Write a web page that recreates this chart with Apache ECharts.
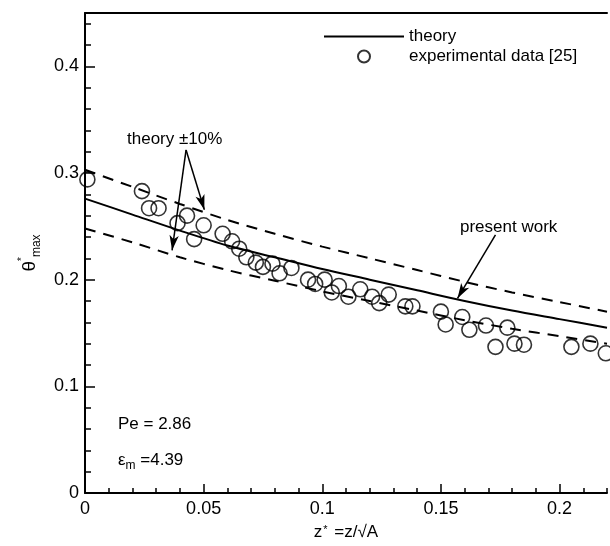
<!DOCTYPE html>
<html>
<head>
<meta charset="utf-8">
<script src="https://cdn.jsdelivr.net/npm/echarts@6/dist/echarts.min.js"></script>
<style>
  html, body { margin: 0; padding: 0; background: #fff; }
  #chart { width: 610px; height: 546px; }
</style>
</head>
<body>
<div id="chart"></div>
<script>
// Theory curve and its ±10% band, sampled along z*
const zTheory = [0, 0.02, 0.04, 0.06, 0.08, 0.10, 0.12, 0.14, 0.16, 0.18, 0.20, 0.22];
const theory = [0.276, 0.261, 0.246, 0.232, 0.221, 0.210, 0.200, 0.190, 0.180, 0.171, 0.163, 0.155];
const theoryUpper = [0.303, 0.287, 0.271, 0.256, 0.243, 0.231, 0.220, 0.209, 0.198, 0.188, 0.179, 0.170];
const theoryLower = [0.248, 0.235, 0.221, 0.209, 0.199, 0.189, 0.180, 0.171, 0.162, 0.154, 0.147, 0.140];

// Experimental data [25]
const expZ = [0.001, 0.024, 0.027, 0.031, 0.039, 0.043, 0.046, 0.050, 0.058, 0.062,
              0.065, 0.068, 0.072, 0.075, 0.079, 0.082, 0.087, 0.094, 0.097, 0.101,
              0.104, 0.107, 0.111, 0.116, 0.121, 0.124, 0.128, 0.135, 0.138, 0.150,
              0.152, 0.159, 0.162, 0.169, 0.173, 0.178, 0.181, 0.185, 0.205, 0.213, 0.2195];
const expTheta = [0.294, 0.283, 0.267, 0.267, 0.253, 0.260, 0.238, 0.251, 0.243, 0.236,
                  0.229, 0.221, 0.216, 0.212, 0.215, 0.206, 0.211, 0.200, 0.196, 0.200,
                  0.188, 0.194, 0.184, 0.191, 0.184, 0.178, 0.186, 0.175, 0.175, 0.170,
                  0.158, 0.165, 0.153, 0.157, 0.137, 0.155, 0.140, 0.139, 0.137, 0.140, 0.131];

// Axis ranges and tick steps
const xRange = [0, 0.22];
const yRange = [0, 0.45];
const xMajor = 0.05, xMinor = 0.01;
const yMajor = 0.1, yMinor = 0.02;

// Annotation arrows: [from, to] in data coordinates
const bandArrows = [
  [[0.0426, 0.3216], [0.0367, 0.2275]],
  [[0.0426, 0.3216], [0.0503, 0.2655]]
];
const workArrow = [[0.173, 0.2421], [0.157, 0.1825]];

const FONT = '"Liberation Sans", Arial, sans-serif';
const pairs = (xs, ys) => xs.map((x, i) => [x, ys[i]]);

const chart = echarts.init(document.getElementById('chart'), null, { renderer: 'canvas' });

const axisText = { color: '#000', fontSize: 18, fontFamily: FONT };

const arrowLines = bandArrows.concat([workArrow]).map(a => [
  { coord: a[0], symbol: 'none' },
  { coord: a[1], symbol: 'arrow', symbolSize: [7, 15] }
]);

chart.setOption({
  animation: false,
  backgroundColor: '#fff',
  grid: { left: 85, right: 3, top: 13, bottom: 46, containLabel: false },
  legend: {
    data: [
      { name: 'theory', itemStyle: { opacity: 0 } },
      { name: 'experimental data [25]' }
    ],
    orient: 'vertical',
    left: 318,
    top: 23,
    itemWidth: 80,
    itemHeight: 12,
    itemGap: 3,
    selectedMode: false,
    textStyle: { color: '#000', fontSize: 17, fontFamily: FONT, padding: [0, 0, 0, 0] }
  },
  xAxis: [
    {
      type: 'value', min: xRange[0], max: xRange[1], interval: xMajor, position: 'bottom',
      name: 'z{s|*} =z/√A', nameLocation: 'middle', nameGap: 31,
      nameTextStyle: { color: '#000', fontSize: 17, fontFamily: FONT,
        rich: { s: { fontSize: 11, fontFamily: FONT, color: '#000', verticalAlign: 'top', padding: [0, 2, 6, 1] } } },
      axisLine: { show: true, onZero: false, lineStyle: { color: '#000', width: 2 } },
      axisTick: { show: true, inside: true, length: 9, lineStyle: { color: '#000', width: 1.5 } },
      axisLabel: Object.assign({ margin: 7, showMaxLabel: false }, axisText),
      splitLine: { show: false }
    },
    {
      type: 'value', min: xRange[0], max: xRange[1], interval: xMinor, position: 'bottom',
      axisLine: { show: false, onZero: false },
      axisTick: { show: true, inside: true, length: 5, lineStyle: { color: '#000', width: 1.5 } },
      axisLabel: { show: false },
      splitLine: { show: false }
    },
    {
      type: 'value', min: xRange[0], max: xRange[1], position: 'top',
      axisLine: { show: true, onZero: false, lineStyle: { color: '#000', width: 2 } },
      axisTick: { show: false },
      axisLabel: { show: false },
      splitLine: { show: false }
    }
  ],
  yAxis: [
    {
      type: 'value', min: yRange[0], max: yRange[1], interval: yMajor, position: 'left',
      name: '{t|θ}{s|*}{m|max}', nameLocation: 'middle', nameGap: 40,
      nameTextStyle: {
        color: '#000', fontSize: 18, fontFamily: FONT,
        rich: {
          t: { fontSize: 19, fontFamily: FONT, color: '#000', lineHeight: 26 },
          s: { fontSize: 10, fontFamily: FONT, color: '#000', verticalAlign: 'top', lineHeight: 26 },
          m: { fontSize: 12, fontFamily: FONT, color: '#000', verticalAlign: 'bottom', lineHeight: 26 }
        }
      },
      axisLine: { show: true, onZero: false, lineStyle: { color: '#000', width: 2 } },
      axisTick: { show: true, inside: true, length: 10, lineStyle: { color: '#000', width: 1.5 } },
      axisLabel: Object.assign({ margin: 6, showMaxLabel: false }, axisText),
      splitLine: { show: false }
    },
    {
      type: 'value', min: yRange[0], max: yRange[1], interval: yMinor, position: 'left',
      axisLine: { show: false, onZero: false },
      axisTick: { show: true, inside: true, length: 6, lineStyle: { color: '#000', width: 1.5 } },
      axisLabel: { show: false },
      splitLine: { show: false }
    }
  ],
  series: [
    {
      name: 'theory +10%', type: 'line', smooth: 0.3, symbol: 'none',
      data: pairs(zTheory, theoryUpper),
      lineStyle: { color: '#000', width: 2, type: [11, 8] }
    },
    {
      name: 'theory -10%', type: 'line', smooth: 0.3, symbol: 'none',
      data: pairs(zTheory, theoryLower),
      lineStyle: { color: '#000', width: 2, type: [11, 8] }
    },
    {
      name: 'theory', type: 'line', smooth: 0.3, symbol: 'none',
      data: pairs(zTheory, theory),
      itemStyle: { color: '#000' },
      lineStyle: { color: '#000', width: 2 },
      markLine: {
        silent: true, animation: false,
        label: { show: false },
        lineStyle: { color: '#000', width: 1.5, type: 'solid' },
        data: arrowLines
      }
    },
    {
      name: 'experimental data [25]', type: 'scatter', symbol: 'circle', symbolSize: 15,
      data: pairs(expZ, expTheta),
      itemStyle: { color: 'rgba(0,0,0,0)', borderColor: '#000', borderWidth: 1.6 }
    }
  ],
  graphic: [
    { type: 'text', left: 127, top: 131, style: { text: 'theory ±10%', fill: '#000', fontSize: 17, fontFamily: FONT } },
    { type: 'text', left: 460, top: 219, style: { text: 'present work', fill: '#000', fontSize: 17, fontFamily: FONT } },
    { type: 'text', left: 118, top: 416, style: { text: 'Pe = 2.86', fill: '#000', fontSize: 17, fontFamily: FONT } },
    {
      type: 'text', left: 118, top: 452,
      style: {
        text: '{e|ε}{m|m} =4.39', fill: '#000', fontSize: 17, fontFamily: FONT,
        rich: {
          e: { fontSize: 17, fontFamily: FONT, fill: '#000', lineHeight: 22 },
          m: { fontSize: 12, fontFamily: FONT, fill: '#000', verticalAlign: 'bottom', lineHeight: 22 }
        }
      }
    }
  ]
});
</script>
</body>
</html>
